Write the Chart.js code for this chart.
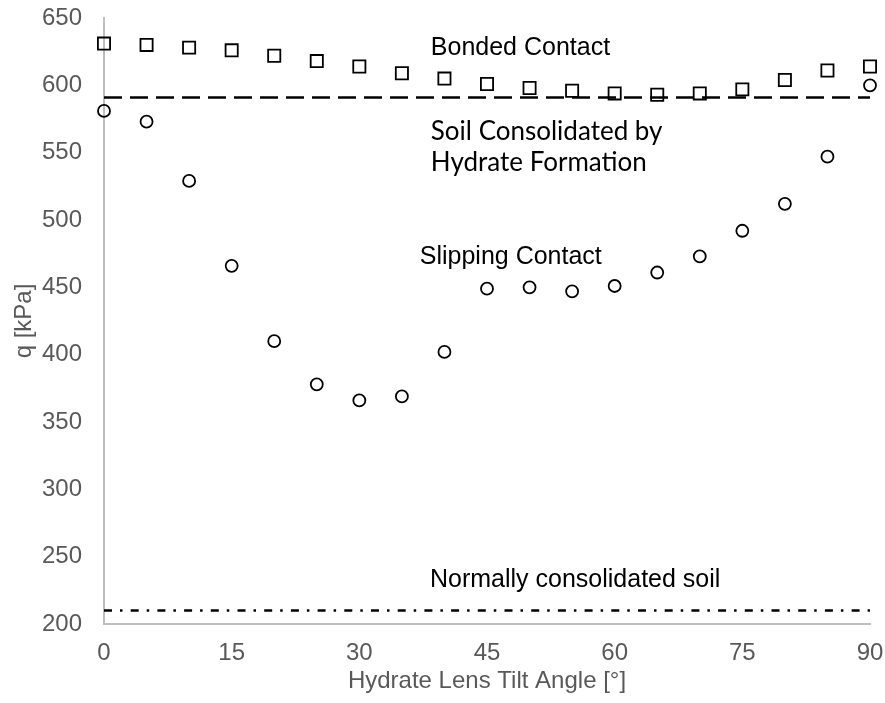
<!DOCTYPE html>
<html>
<head>
<meta charset="utf-8">
<script src="https://cdn.jsdelivr.net/npm/chart.js@4.4.1/dist/chart.umd.min.js"></script>
<style>
  html, body { margin: 0; padding: 0; background: #fff; }
  #wrap { width: 885px; height: 703px; }
</style>
</head>
<body>
<div id="wrap"><canvas id="c" width="885" height="703"></canvas></div>
<script>
// tilt angles [deg]
const angles = [0, 5, 10, 15, 20, 25, 30, 35, 40, 45, 50, 55, 60, 65, 70, 75, 80, 85, 90];
// q [kPa]
const bondedQ = [631, 630, 628, 626, 622, 618, 614, 609, 605, 601, 598, 596, 594, 593, 594, 597, 604, 611, 614];
const slippingQ = [581, 573, 529, 466, 410, 378, 366, 369, 402, 449, 450, 447, 451, 461, 473, 492, 512, 547, 600];
const hydrateLevel = 591;
const ncSoilLevel = 210;
const xTicks = [0, 15, 30, 45, 60, 75, 90];
const yTicks = [200, 250, 300, 350, 400, 450, 500, 550, 600, 650];

const toPts = (ys) => angles.map((a, i) => ({ x: a, y: ys[i] }));
const flat = (v) => [{ x: 0, y: v }, { x: 90, y: v }];

// text labels placed in data coordinates
const labels = [
  { text: 'Bonded Contact', x: 38.4, y: 627.7, font: '25px "Liberation Sans", Arial, sans-serif' },
  { text: 'Soil Consolidated by', x: 38.4, y: 566, font: '26px Lato, "Noto Sans", sans-serif' },
  { text: 'Hydrate Formation', x: 38.4, y: 542.4, font: '26px Lato, "Noto Sans", sans-serif' },
  { text: 'Slipping Contact', x: 37.1, y: 472.6, font: '25px "Liberation Sans", Arial, sans-serif' },
  { text: 'Normally consolidated soil', x: 38.3, y: 232.8, font: '25px "Liberation Sans", Arial, sans-serif' }
];

const textPlugin = {
  id: 'textLabels',
  afterDatasetsDraw(chart) {
    const { ctx, scales } = chart;
    ctx.save();
    ctx.fillStyle = '#000';
    ctx.textBaseline = 'middle';
    ctx.textAlign = 'left';
    labels.forEach(l => {
      ctx.font = l.font;
      ctx.fillText(l.text, scales.x.getPixelForValue(l.x), scales.y.getPixelForValue(l.y));
    });
    ctx.restore();
  }
};

const tickFont = { family: '"Liberation Sans", Arial, sans-serif', size: 24 };

new Chart(document.getElementById('c'), {
  type: 'scatter',
  data: {
    datasets: [
      {
        label: 'Soil Consolidated by Hydrate Formation',
        data: flat(hydrateLevel),
        showLine: true,
        borderColor: '#000',
        borderWidth: 2.5,
        borderDash: [18, 8],
        pointRadius: 0
      },
      {
        label: 'Normally consolidated soil',
        data: flat(ncSoilLevel),
        showLine: true,
        borderColor: '#000',
        borderWidth: 2.5,
        borderDash: [8, 8, 2.5, 8.2],
        pointRadius: 0
      },
      {
        label: 'Bonded Contact',
        data: toPts(bondedQ),
        pointStyle: 'rect',
        pointRadius: 8.6,
        borderColor: '#000',
        backgroundColor: 'rgba(0,0,0,0)',
        pointBorderWidth: 1.8,
        clip: false
      },
      {
        label: 'Slipping Contact',
        data: toPts(slippingQ),
        pointStyle: 'circle',
        pointRadius: 6,
        borderColor: '#000',
        backgroundColor: 'rgba(0,0,0,0)',
        pointBorderWidth: 1.8,
        clip: false
      }
    ]
  },
  options: {
    responsive: false,
    animation: false,
    layout: { padding: { top: 18, right: 15, left: 0, bottom: 0 } },
    plugins: {
      legend: { display: false },
      tooltip: { enabled: false }
    },
    scales: {
      x: {
        type: 'linear',
        min: 0,
        max: 90,
        afterBuildTicks: (axis) => { axis.ticks = xTicks.map(v => ({ value: v })); },
        grid: { display: false, drawTicks: false },
        border: { display: true, color: '#bfbfbf', width: 2 },
        ticks: { color: '#595959', font: tickFont, padding: 15, maxRotation: 0 },
        title: { display: true, text: 'Hydrate Lens Tilt Angle [°]', color: '#595959', font: tickFont, padding: { top: 0, bottom: 7 } },
        afterFit: (axis) => {
          axis.height = 79;
          axis.paddingLeft = 0;
          axis.paddingRight = 0;
        }
      },
      y: {
        type: 'linear',
        min: 200,
        max: 650,
        afterBuildTicks: (axis) => { axis.ticks = yTicks.map(v => ({ value: v })); },
        grid: { display: false, drawTicks: false },
        border: { display: true, color: '#bfbfbf', width: 2 },
        ticks: { color: '#595959', font: tickFont, padding: 22 },
        title: { display: true, text: 'q [kPa]', color: '#595959', font: tickFont, padding: { top: 10, bottom: 0 } },
        afterFit: (axis) => {
          axis.width = 104;
          axis.paddingTop = 0;
          axis.paddingBottom = 0;
        }
      }
    }
  },
  plugins: [textPlugin]
});
</script>
</body>
</html>
